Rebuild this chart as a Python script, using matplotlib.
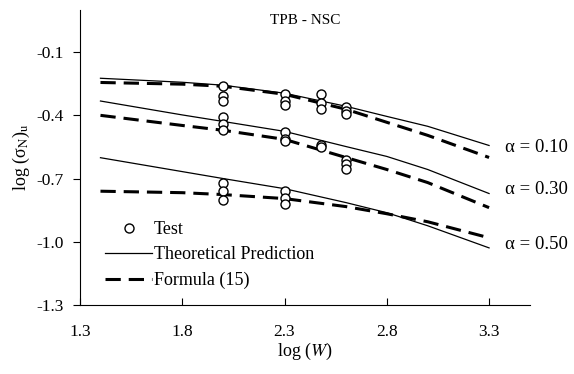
import matplotlib
matplotlib.use('Agg')
import matplotlib.pyplot as plt

plt.rcParams['font.family'] = ['Liberation Serif', 'DejaVu Serif']
plt.rcParams['mathtext.fontset'] = 'stix'

# test data (log W, log sigma_Nu)
test_x = [2.0, 2.0, 2.0, 2.0, 2.0, 2.0, 2.0, 2.0, 2.0,
          2.3, 2.3, 2.3, 2.3, 2.3, 2.3, 2.3, 2.3, 2.3,
          2.48, 2.48, 2.48, 2.48, 2.48,
          2.6, 2.6, 2.6, 2.6, 2.6, 2.6]
test_y = [-0.26, -0.31, -0.33, -0.41, -0.44, -0.47, -0.72, -0.76, -0.80,
          -0.30, -0.33, -0.35, -0.48, -0.51, -0.52, -0.76, -0.79, -0.82,
          -0.30, -0.34, -0.37, -0.54, -0.55,
          -0.36, -0.38, -0.395, -0.61, -0.63, -0.655]

# curves
curve_x = [1.4, 1.8, 2.0, 2.3, 2.6, 2.8, 3.0, 3.3]
theory_010 = [-0.224, -0.243, -0.257, -0.295, -0.357, -0.405, -0.452, -0.543]
theory_030 = [-0.332, -0.398, -0.429, -0.476, -0.548, -0.595, -0.657, -0.771]
theory_050 = [-0.601, -0.667, -0.700, -0.748, -0.814, -0.862, -0.924, -1.029]
formula_010 = [-0.244, -0.252, -0.262, -0.300, -0.371, -0.433, -0.495, -0.600]
formula_030 = [-0.400, -0.448, -0.471, -0.514, -0.600, -0.657, -0.719, -0.838]
formula_050 = [-0.760, -0.767, -0.776, -0.795, -0.833, -0.867, -0.905, -0.981]

alpha_labels = ['α = 0.10', 'α = 0.30', 'α = 0.50']
alpha_label_y = [-0.552, -0.752, -1.014]

fig = plt.figure(figsize=(5.74, 3.74), dpi=100)
ax = fig.add_axes([0.1394, 0.1845, 0.7839, 0.7888])

dash = (0, (5, 2.6))
ax.plot(curve_x, theory_010, color='black', lw=0.9, label='Theoretical Prediction')
ax.plot(curve_x, theory_030, color='black', lw=0.9)
ax.plot(curve_x, theory_050, color='black', lw=0.9)
ax.plot(curve_x, formula_010, color='black', lw=2.2, linestyle=dash, label='Formula (15)')
ax.plot(curve_x, formula_030, color='black', lw=2.2, linestyle=dash)
ax.plot(curve_x, formula_050, color='black', lw=2.2, linestyle=dash)
ax.plot(test_x, test_y, linestyle='none', marker='o', ms=6.5, mfc='white',
        mec='black', mew=1.0, label='Test', zorder=5)

for lab, yy in zip(alpha_labels, alpha_label_y):
    ax.text(3.38, yy, lab, fontsize=13.5, va='center', ha='left', clip_on=False)

ax.text(0.5, 0.985, 'TPB - NSC', transform=ax.transAxes, ha='center', va='top', fontsize=11)

ax.set_xlim(1.3, 3.5)
ax.set_ylim(-1.3, 0.1)
ax.set_xticks([1.3, 1.8, 2.3, 2.8, 3.3])
ax.set_xticklabels(['1.3', '1.8', '2.3', '2.8', '3.3'])
ax.set_yticks([-1.3, -1.0, -0.7, -0.4, -0.1])
ax.set_yticklabels(['-1.3', '-1.0', '-0.7', '-0.4', '-0.1'])
ax.tick_params(axis='x', direction='in', length=5, width=0.8, labelsize=12.5, pad=14)
ax.tick_params(axis='y', direction='out', length=5, width=0.8, labelsize=12.5, pad=7)
ax.spines['top'].set_visible(False)
ax.spines['right'].set_visible(False)
ax.set_xlabel(r'log ($W$)', fontsize=13, labelpad=0)
ax.set_ylabel(r'log (σ$_{\rm N}$)$_{\rm u}$', fontsize=13, labelpad=3)

handles, labels = ax.get_legend_handles_labels()
order = [2, 0, 1]
ax.legend([handles[i] for i in order], [labels[i] for i in order],
          loc='lower left', bbox_to_anchor=(0.04, 0.03), frameon=False,
          fontsize=13, handlelength=2.6, handletextpad=0.1, borderaxespad=0,
          labelspacing=0.45)

fig.savefig('out.png', dpi=100)
